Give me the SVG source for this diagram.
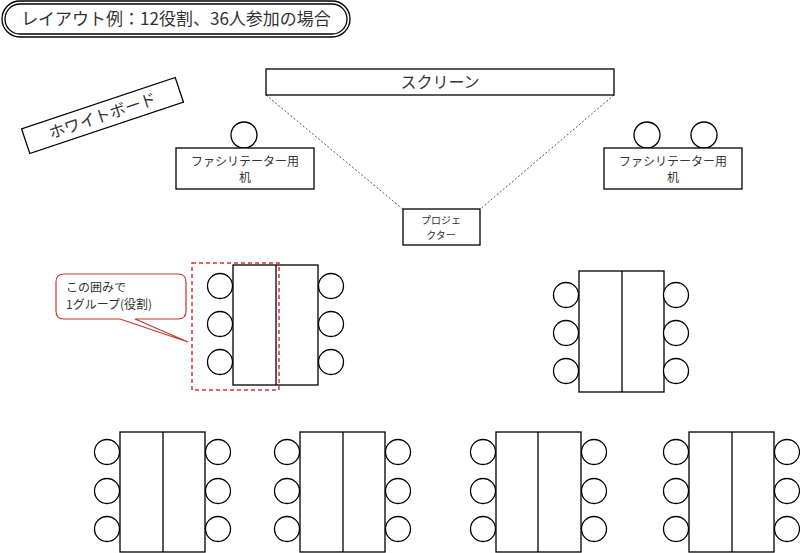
<svg xmlns="http://www.w3.org/2000/svg" width="800" height="553" viewBox="0 0 800 553">
<style>
.b{fill:#fff;stroke:#000;stroke-width:1.3}
.c{fill:#fff;stroke:#000;stroke-width:1.3}
.t{font-family:"Noto Sans CJK JP","Liberation Sans",sans-serif;fill:#333}
.d{stroke:#555;stroke-width:1;stroke-dasharray:2,2;fill:none}
</style>
<rect width="800" height="553" fill="#fff"/>
<g id="title">
<rect x="2" y="1" width="348" height="36" rx="18" fill="#fff" stroke="#000" stroke-width="1.3"/>
<rect x="5" y="4" width="342" height="30" rx="15" fill="none" stroke="#000" stroke-width="1.3"/>
<text class="t" x="176" y="25" font-size="17" text-anchor="middle">レイアウト例：12役割、36人参加の場合</text>
</g>
<g id="whiteboard" transform="translate(102.5,115.5) rotate(-18.5)">
<rect class="b" x="-81" y="-13" width="162" height="26"/>
<text class="t" x="0" y="6" font-size="16" text-anchor="middle">ホワイトボード</text>
</g>
<g id="connectors">
<line class="d" x1="266" y1="95" x2="405" y2="211"/>
<line class="d" x1="614" y1="95" x2="478" y2="211"/>
</g>
<g id="screen"><rect class="b" x="266" y="69" width="348" height="26"/><text class="t" x="440" y="88" font-size="16" text-anchor="middle">スクリーン</text></g>
<g id="projector"><rect class="b" x="403" y="209" width="77" height="36"/><text class="t" x="441" y="224" font-size="10" text-anchor="middle">プロジェ</text><text class="t" x="441" y="239" font-size="10" text-anchor="middle">クター</text></g>
<g id="fac-left"><circle class="c" cx="244" cy="135" r="13"/><rect class="b" x="176" y="148" width="138" height="41"/><text class="t" x="245" y="166" font-size="12" text-anchor="middle">ファシリテーター用</text><text class="t" x="245" y="182" font-size="12" text-anchor="middle">机</text></g>
<g id="fac-right"><circle class="c" cx="647" cy="135" r="13"/><circle class="c" cx="704" cy="135" r="13"/><rect class="b" x="604" y="148" width="138" height="41"/><text class="t" x="673" y="166" font-size="12" text-anchor="middle">ファシリテーター用</text><text class="t" x="673" y="182" font-size="12" text-anchor="middle">机</text></g>
<g id="group1"><rect class="b" x="233" y="265" width="85" height="120"/><line x1="276" y1="265" x2="276" y2="385" stroke="#000" stroke-width="1.3"/>
<circle class="c" cx="220" cy="286" r="12.5"/><circle class="c" cx="220" cy="324" r="12.5"/><circle class="c" cx="220" cy="362" r="12.5"/>
<circle class="c" cx="331" cy="286" r="12.5"/><circle class="c" cx="331" cy="324" r="12.5"/><circle class="c" cx="331" cy="362" r="12.5"/></g>
<g id="group2"><rect class="b" x="579" y="271" width="85" height="121"/><line x1="622" y1="271" x2="622" y2="392" stroke="#000" stroke-width="1.3"/>
<circle class="c" cx="566" cy="295" r="12.5"/><circle class="c" cx="566" cy="333" r="12.5"/><circle class="c" cx="566" cy="371" r="12.5"/>
<circle class="c" cx="676" cy="295" r="12.5"/><circle class="c" cx="676" cy="333" r="12.5"/><circle class="c" cx="676" cy="371" r="12.5"/></g>
<g id="group3"><rect class="b" x="120" y="432" width="85" height="120"/><line x1="163" y1="432" x2="163" y2="552" stroke="#000" stroke-width="1.3"/>
<circle class="c" cx="107" cy="452" r="12.5"/><circle class="c" cx="107" cy="491" r="12.5"/><circle class="c" cx="107" cy="529" r="12.5"/>
<circle class="c" cx="218" cy="452" r="12.5"/><circle class="c" cx="218" cy="491" r="12.5"/><circle class="c" cx="218" cy="529" r="12.5"/></g>
<g id="group4"><rect class="b" x="300" y="432" width="85" height="120"/><line x1="343" y1="432" x2="343" y2="552" stroke="#000" stroke-width="1.3"/>
<circle class="c" cx="287" cy="452" r="12.5"/><circle class="c" cx="287" cy="491" r="12.5"/><circle class="c" cx="287" cy="529" r="12.5"/>
<circle class="c" cx="398" cy="452" r="12.5"/><circle class="c" cx="398" cy="491" r="12.5"/><circle class="c" cx="398" cy="529" r="12.5"/></g>
<g id="group5"><rect class="b" x="496" y="432" width="85" height="120"/><line x1="538" y1="432" x2="538" y2="552" stroke="#000" stroke-width="1.3"/>
<circle class="c" cx="483" cy="452" r="12.5"/><circle class="c" cx="483" cy="491" r="12.5"/><circle class="c" cx="483" cy="529" r="12.5"/>
<circle class="c" cx="594" cy="452" r="12.5"/><circle class="c" cx="594" cy="491" r="12.5"/><circle class="c" cx="594" cy="529" r="12.5"/></g>
<g id="group6"><rect class="b" x="689" y="432" width="85" height="120"/><line x1="732" y1="432" x2="732" y2="552" stroke="#000" stroke-width="1.3"/>
<circle class="c" cx="676" cy="452" r="12.5"/><circle class="c" cx="676" cy="491" r="12.5"/><circle class="c" cx="676" cy="529" r="12.5"/>
<circle class="c" cx="787" cy="452" r="12.5"/><circle class="c" cx="787" cy="491" r="12.5"/><circle class="c" cx="787" cy="529" r="12.5"/></g>
<g id="highlight"><rect x="192" y="263" width="87" height="127" fill="none" stroke="#d93030" stroke-width="1.5" stroke-dasharray="4,3"/></g>
<g id="callout">
<path d="M64,274 H178 Q186,274 186,282 V311 Q186,319 178,319 H135 L188,342 L120,319 H64 Q56,319 56,311 V282 Q56,274 64,274 Z" fill="#fff" stroke="#c0392b" stroke-width="1.2"/>
<text class="t" x="66" y="292" font-size="12">この囲みで</text>
<text class="t" x="66" y="309" font-size="12">1グループ(役割)</text>
</g>
</svg>
